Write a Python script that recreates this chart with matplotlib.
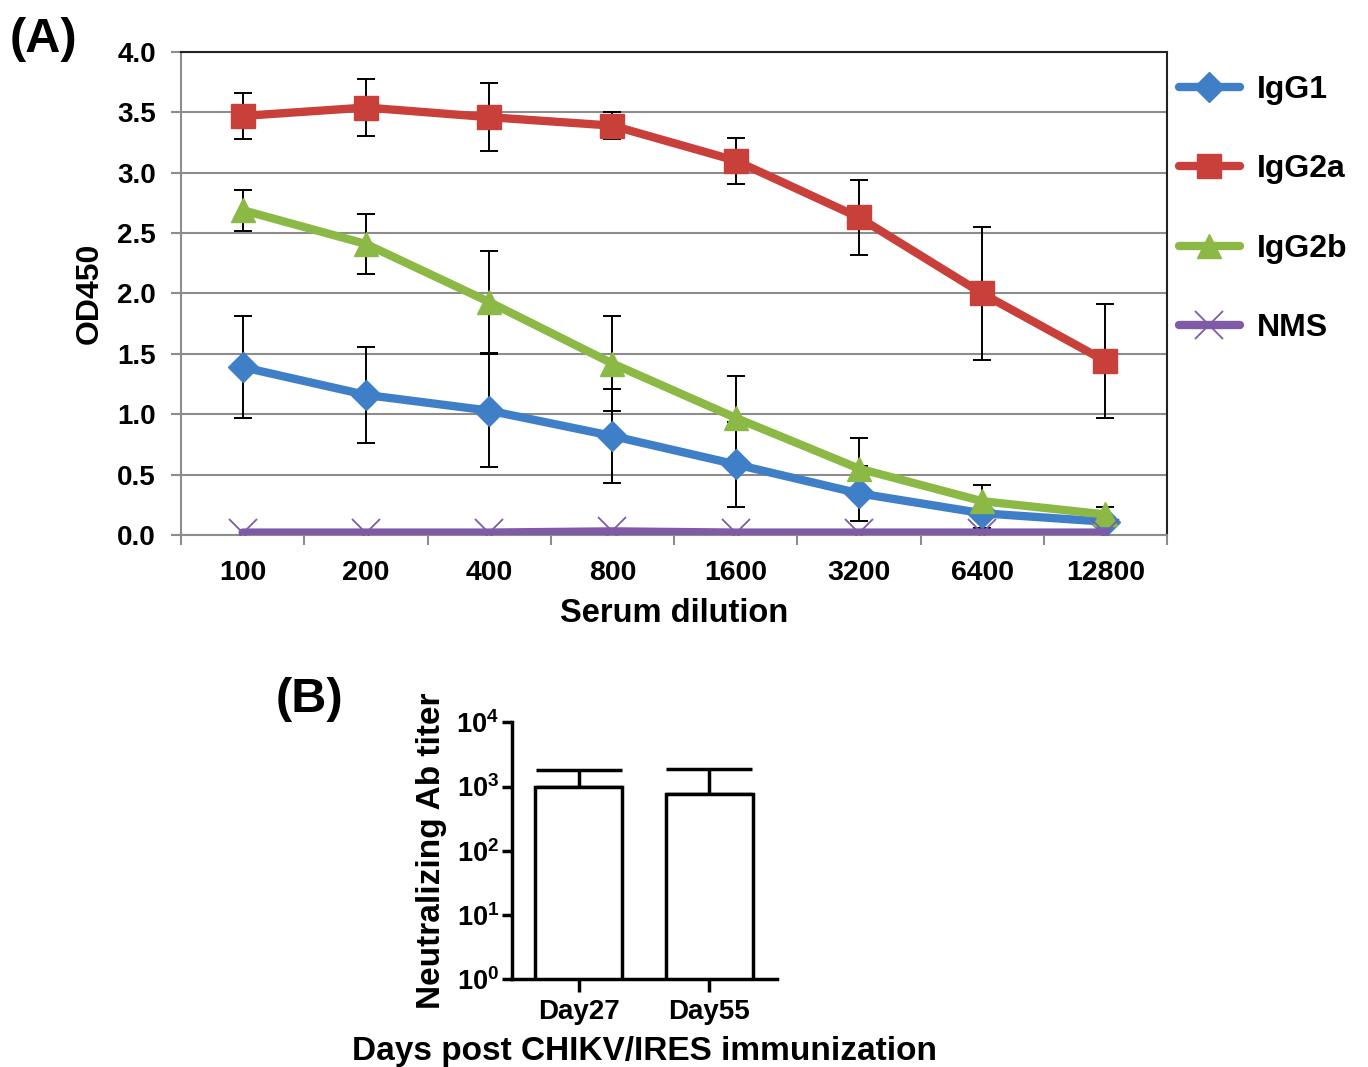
import numpy as np
import matplotlib
matplotlib.use('Agg')
import matplotlib.pyplot as plt

plt.rcParams['font.family'] = ['Liberation Sans', 'DejaVu Sans']
plt.rcParams['font.weight'] = 'bold'
plt.rcParams['mathtext.fontset'] = 'custom'
plt.rcParams['mathtext.rm'] = 'Liberation Sans:bold'
plt.rcParams['mathtext.bf'] = 'Liberation Sans:bold'

#panel A: ELISA OD450 by serum dilution
dilutions = ['100', '200', '400', '800', '1600', '3200', '6400', '12800']
igg1 = [1.39, 1.16, 1.03, 0.82, 0.585, 0.345, 0.18, 0.11]
igg1_err = [0.42, 0.40, 0.47, 0.39, 0.35, 0.23, 0.12, 0.05]
igg2a = [3.47, 3.54, 3.46, 3.39, 3.10, 2.63, 2.00, 1.44]
igg2a_err = [0.19, 0.24, 0.28, 0.11, 0.19, 0.31, 0.55, 0.47]
igg2b = [2.69, 2.41, 1.93, 1.42, 0.97, 0.55, 0.28, 0.17]
igg2b_err = [0.17, 0.25, 0.42, 0.39, 0.35, 0.25, 0.13, 0.06]
nms = [0.02, 0.02, 0.02, 0.03, 0.02, 0.02, 0.02, 0.02]

#panel B: neutralizing titers
days = ['Day27', 'Day55']
titer = [973, 757]
titer_err = [840, 1100]

fig = plt.figure(figsize=(13.68, 10.67), dpi=100)

# ---- panel A ----
ax = fig.add_axes([0.1323, 0.4986, 0.7208, 0.4527])
x = np.arange(len(dilutions))
series = [('IgG1', igg1, igg1_err, '#3f7fc7', 'D', 15),
          ('IgG2a', igg2a, igg2a_err, '#c9403b', 's', 17),
          ('IgG2b', igg2b, igg2b_err, '#8cb946', '^', 17),
          ('NMS', nms, None, '#7f5aa6', 'x', 20)]
for name, vals, err, col, mk, ms in series:
    if err is not None:
        ax.errorbar(x, vals, yerr=err, fmt='none', ecolor='k', elinewidth=1.4,
                    capsize=6.5, capthick=1.4, zorder=2)
    ax.plot(x, vals, color=col, lw=6, marker=mk, markersize=ms,
            markeredgewidth=1.3 if mk == 'x' else 1, markerfacecolor=col,
            markeredgecolor=col, label=name, zorder=3, solid_capstyle='round')

ax.set_xlim(-0.5, 7.5)
ax.set_ylim(0, 4.0)
ax.set_yticks(np.arange(0, 4.01, 0.5))
ax.set_yticklabels(['%.1f' % v for v in np.arange(0, 4.01, 0.5)])
ax.yaxis.grid(True, color='#8c8c8c', lw=1.5)
ax.set_axisbelow(True)
ax.set_xticks(np.arange(-0.5, 8, 1.0))
ax.set_xticklabels([])
ax.set_xticks(x, minor=True)
ax.set_xticklabels(dilutions, minor=True)
ax.tick_params(axis='x', which='major', length=7, width=1.5, color='#8c8c8c', direction='out')
ax.tick_params(axis='x', which='minor', length=0, pad=18, labelsize=20.5)
ax.tick_params(axis='y', length=7, width=1.5, color='#8c8c8c', pad=11, labelsize=20)
for s in ['left', 'bottom']:
    ax.spines[s].set_color('#8c8c8c')
    ax.spines[s].set_linewidth(1.5)
for s in ['top', 'right']:
    ax.spines[s].set_color('#222222')
    ax.spines[s].set_linewidth(1.5)
ax.set_xlabel('Serum dilution', fontsize=23.5, fontweight='bold', labelpad=9)
ax.set_ylabel('OD450', fontsize=23, fontweight='bold', labelpad=9)
ax.legend(loc='upper left', bbox_to_anchor=(0.983, 1.012), frameon=False,
          fontsize=23, handlelength=1.9, labelspacing=1.55, handletextpad=0.55)

fig.text(0.032, 0.963, '(A)', fontsize=35, fontweight='bold', ha='center', va='center')

# ---- panel B ----
bx = fig.add_axes([0.374, 0.0822, 0.1937, 0.2409])
xb = np.arange(len(days))
bx.bar(xb, titer, width=0.667, color='white', edgecolor='k', linewidth=2.5, zorder=2)
bx.errorbar(xb, titer, yerr=[np.zeros(len(titer)), titer_err], fmt='none',
            ecolor='k', elinewidth=2.5, capsize=31, capthick=2.5, zorder=1)
bx.set_yscale('log')
bx.set_ylim(1, 1e4)
bx.set_xlim(-0.512, 1.514)
bx.set_yticks([1, 10, 100, 1000, 10000])
bx.set_yticklabels([r'$\mathbf{10^{%d}}$' % k for k in range(5)])
bx.yaxis.set_minor_locator(matplotlib.ticker.NullLocator())
bx.set_xticks(xb)
bx.set_xticklabels(days)
bx.tick_params(axis='y', length=7, width=2.5, pad=2, labelsize=19.5)
bx.tick_params(axis='x', length=9, width=2.5, pad=5, labelsize=20)
for s in ['top', 'right']:
    bx.spines[s].set_visible(False)
for s in ['left', 'bottom']:
    bx.spines[s].set_linewidth(2.5)
bx.set_ylabel('Neutralizing Ab titer', fontsize=24, fontweight='bold', labelpad=7)
bx.set_xlabel('Days post CHIKV/IRES immunization', fontsize=24, fontweight='bold', labelpad=8)

fig.text(0.2265, 0.344, '(B)', fontsize=35, fontweight='bold', ha='center', va='center')

fig.savefig('out.png', dpi=100)
